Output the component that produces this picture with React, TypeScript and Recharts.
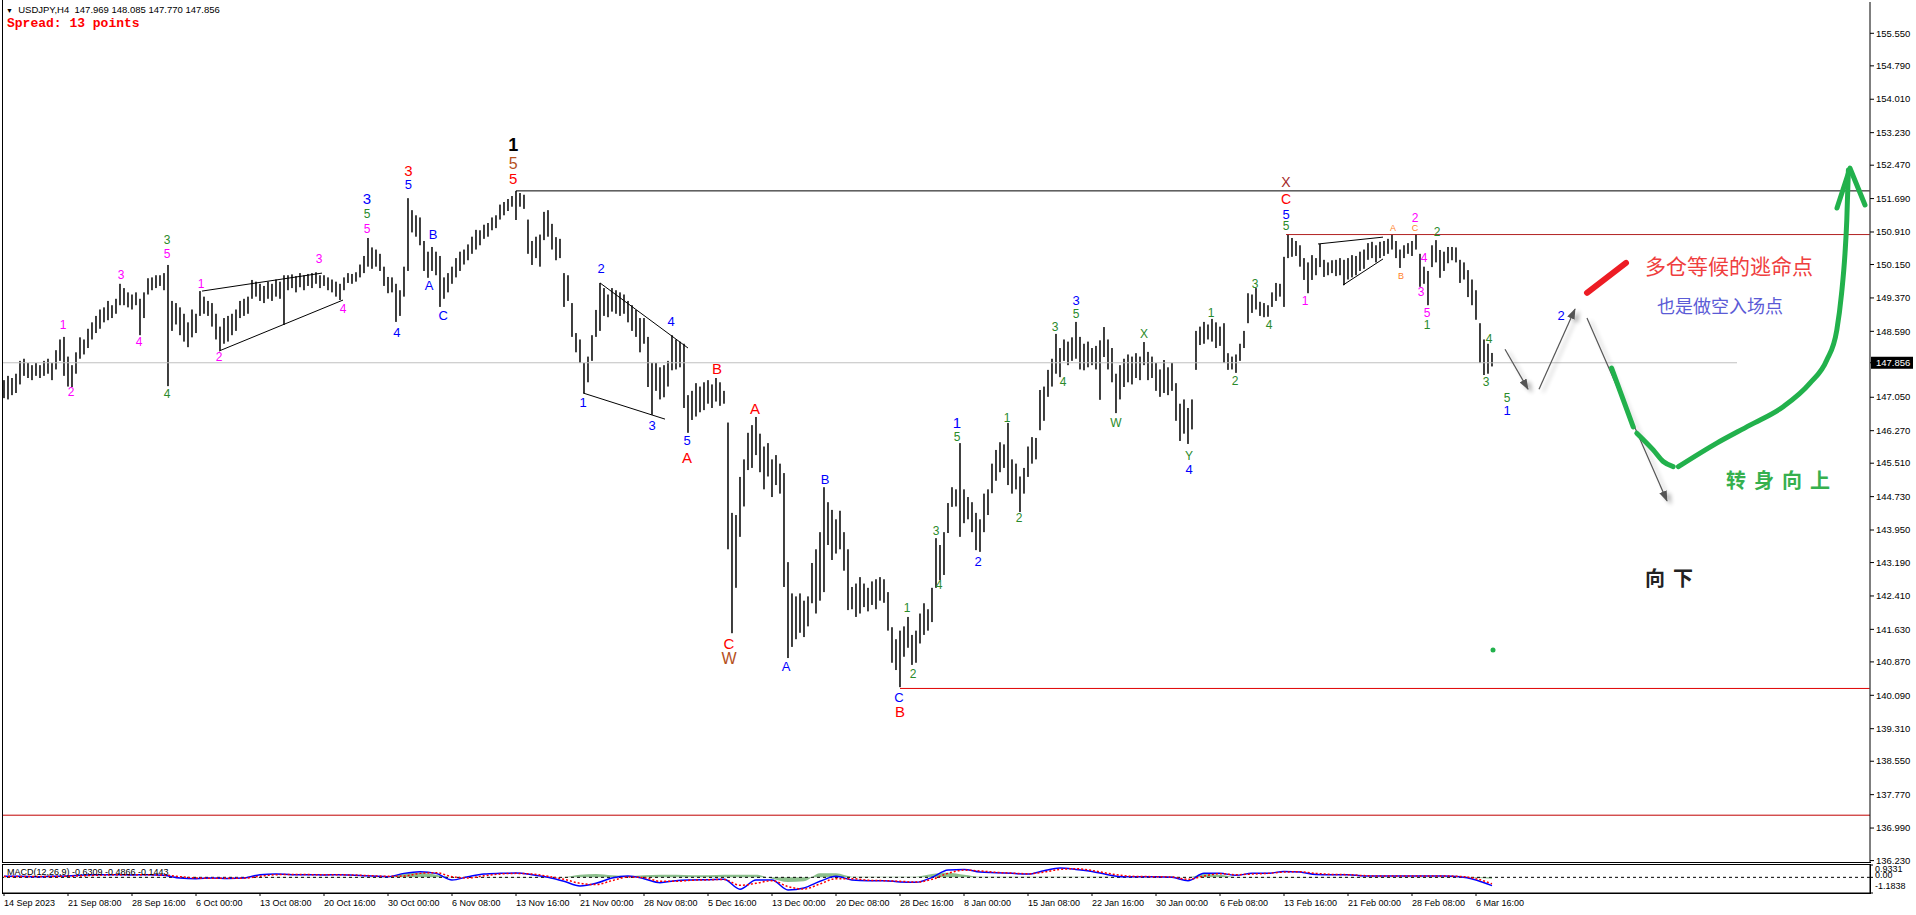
import React from "react"
import {
  ComposedChart,
  Bar,
  Line,
  Area,
  XAxis,
  YAxis,
  ReferenceLine,
  ReferenceDot,
} from "recharts"

// H4 price, two H4 bars per slot (8h)
const highs = [
  147.45, 147.55, 147.5, 147.6, 147.9, 147.95, 147.85, 147.8, 147.85, 147.8,
  147.9, 147.95, 147.85, 148.15, 148.4, 148.46, 148.0, 147.8, 148.1, 148.45,
  148.4, 148.65, 148.8, 148.95, 149.1, 149.15, 149.3, 149.2, 149.35, 149.7,
  149.6, 149.5, 149.45, 149.5, 149.35, 149.5, 149.83, 149.85, 149.9, 149.9,
  149.95, 150.14, 149.3, 149.25, 149.15, 149.0, 148.8, 149.1, 149.0, 149.53,
  149.4, 149.3, 149.25, 149.0, 148.7, 148.9, 148.95, 149.0, 149.1, 149.3,
  149.35, 149.4, 149.79, 149.75, 149.7, 149.65, 149.75, 149.7, 149.8, 149.75,
  149.9, 149.9, 149.92, 149.88, 149.95, 149.9, 149.93, 149.95, 149.97, 149.9,
  149.9, 149.85, 149.8, 149.75, 149.7, 149.85, 149.95, 149.93, 149.97, 150.15,
  150.35, 150.77, 150.55, 150.5, 150.4, 150.1, 149.86, 149.85, 149.7, 149.55,
  150.1, 151.7, 151.42, 151.3, 151.25, 150.7, 150.45, 150.56, 150.45, 150.35,
  149.85, 149.95, 150.1, 150.3, 150.45, 150.5, 150.62, 150.8, 150.96, 150.95,
  151.08, 151.12, 151.25, 151.3, 151.55, 151.61, 151.68, 151.75, 151.87, 151.82,
  151.78, 151.2, 150.7, 150.8, 150.85, 151.38, 151.42, 151.1, 150.79, 150.75,
  149.95, 149.9, 149.25, 148.55, 148.4, 147.85, 148.0, 148.5, 149.09, 149.72,
  149.6, 149.45, 149.6, 149.55, 149.5, 149.45, 149.3, 149.2, 149.09, 148.9,
  148.9, 148.46, 147.85, 147.85, 147.75, 147.8, 147.9, 148.5, 148.4, 148.35,
  148.3, 147.1, 147.2, 147.38, 147.3, 147.4, 147.45, 147.35, 147.5, 147.4,
  147.2, 146.46, 144.35, 144.3, 145.19, 145.6, 146.22, 146.4, 146.59, 146.2,
  145.9, 145.98, 145.6, 145.7, 145.5, 145.28, 143.2, 142.47, 142.4, 142.47,
  142.3, 142.4, 143.18, 143.5, 143.9, 144.95, 144.6, 144.42, 144.2, 144.4,
  143.9, 143.5, 142.62, 142.7, 142.85, 142.7, 142.6, 142.75, 142.8, 142.85,
  142.8, 142.5, 141.68, 141.4, 141.6, 141.7, 141.92, 141.5, 141.6, 142.0,
  142.24, 142.1, 142.6, 143.76, 143.6, 143.9, 144.58, 144.95, 144.9, 145.98,
  144.9, 144.72, 144.6, 144.35, 144.2, 144.8, 144.9, 145.5, 145.82, 146.0,
  145.95, 146.45, 145.6, 145.5, 145.2, 145.4, 145.9, 146.12, 146.1, 147.22,
  147.3, 147.69, 147.95, 148.53, 148.2, 148.4, 148.35, 148.45, 148.81, 148.46,
  148.3, 148.35, 148.2, 148.25, 148.38, 148.69, 148.4, 148.2, 147.6, 147.8,
  147.95, 148.05, 148.0, 148.08, 148.0, 148.34, 148.11, 148.0, 147.85, 147.7,
  147.92, 147.75, 147.85, 147.38, 146.9, 147.0, 146.8, 147.0, 148.6, 148.7,
  148.81, 148.75, 148.88, 148.8, 148.7, 148.78, 148.08, 148.0, 148.05, 148.3,
  148.6, 149.48, 149.45, 149.6, 149.28, 149.25, 149.2, 149.5, 149.72, 149.7,
  150.33, 150.86, 150.77, 150.7, 150.6, 150.3, 150.2, 150.37, 150.3, 150.63,
  150.26, 150.2, 150.25, 150.26, 150.3, 150.26, 150.3, 150.37, 150.35, 150.45,
  150.5, 150.65, 150.68, 150.6, 150.68, 150.7, 150.75, 150.84, 150.7, 150.5,
  150.6, 150.65, 150.7, 150.86, 150.4, 150.1, 150.0, 150.6, 150.72, 150.49,
  150.45, 150.56, 150.56, 150.55, 150.26, 150.2, 150.02, 149.8, 149.55, 148.78,
  148.4, 148.3, 148.085,
]

const lows = [
  147.03, 147.0, 147.1, 147.15, 147.35, 147.55, 147.5, 147.45, 147.55, 147.5,
  147.55, 147.6, 147.45, 147.7, 147.9, 147.55, 147.3, 147.29, 147.6, 147.95,
  148.05, 148.2, 148.4, 148.55, 148.65, 148.8, 148.85, 148.9, 149.0, 149.2,
  149.2, 149.15, 149.1, 149.2, 148.5, 148.9, 149.45, 149.55, 149.6, 149.65,
  149.55, 147.31, 148.6, 148.75, 148.5, 148.35, 148.22, 148.45, 148.55, 148.95,
  149.0, 148.95, 148.7, 148.4, 148.15, 148.3, 148.35, 148.5, 148.6, 148.9,
  148.95, 149.0, 149.35, 149.4, 149.3, 149.25, 149.35, 149.3, 149.4, 149.35,
  148.74, 149.55, 149.6, 149.5, 149.62, 149.55, 149.65, 149.6, 149.7, 149.6,
  149.65, 149.55, 149.5, 149.4, 149.32, 149.55, 149.72, 149.7, 149.75, 149.85,
  149.95, 150.1, 150.05, 150.1, 150.0, 149.65, 149.48, 149.5, 148.81, 148.95,
  149.4, 150.0, 150.9, 150.8, 150.6, 150.0, 149.84, 150.0, 149.9, 149.16,
  149.35, 149.5, 149.7, 149.85, 150.0, 150.15, 150.25, 150.4, 150.5, 150.6,
  150.75, 150.8, 150.95, 151.0, 151.2, 151.3, 151.4, 151.5, 151.19, 151.5,
  151.45, 150.4, 150.14, 150.3, 150.1, 150.72, 150.8, 150.5, 150.25, 150.3,
  149.16, 149.3, 148.46, 148.1, 147.85, 147.15, 147.4, 147.9, 148.46, 148.6,
  148.95, 148.92, 149.05, 149.0, 148.95, 149.0, 148.8, 148.6, 148.46, 148.1,
  148.3, 147.29, 146.64, 147.2, 147.0, 147.05, 147.3, 147.68, 147.7, 147.75,
  146.8, 146.22, 146.52, 146.6, 146.7, 146.75, 146.9, 146.8, 146.95, 146.85,
  146.9, 143.5, 141.54, 142.6, 143.79, 144.5, 145.35, 145.4, 145.7, 145.3,
  144.9, 145.2, 144.72, 145.0, 144.8, 142.62, 140.96, 141.22, 141.4, 141.55,
  141.45, 141.7, 142.24, 142.0, 142.3, 142.5, 143.6, 143.25, 143.4, 143.5,
  143.0, 142.08, 142.1, 141.92, 142.0, 142.15, 142.05, 142.2, 142.1, 142.3,
  142.25, 141.6, 140.85, 140.68, 140.28, 140.99, 141.2, 140.8, 140.85, 141.3,
  141.5, 141.6, 141.8, 142.6, 142.78, 142.9, 143.88, 144.49, 144.5, 143.79,
  144.11, 144.2, 143.9, 143.48, 143.44, 143.9, 144.3, 144.81, 145.1, 145.3,
  145.4, 145.0, 144.8, 144.9, 144.37, 144.8, 145.19, 145.5, 145.6, 146.28,
  146.5, 147.06, 147.3, 147.6, 147.52, 147.9, 147.8, 147.9, 147.95, 147.7,
  147.68, 147.75, 147.8, 147.7, 146.99, 147.99, 147.7, 147.4, 146.68, 147.0,
  147.29, 147.4, 147.35, 147.5, 147.45, 147.8, 147.45, 147.5, 147.2, 147.06,
  147.15, 147.1, 147.2, 146.5, 146.03, 146.2, 145.96, 146.3, 147.69, 148.27,
  148.3, 148.4, 148.35, 148.2, 148.25, 147.85, 147.69, 147.7, 147.62, 147.9,
  148.2, 148.78, 149.02, 149.1, 148.95, 148.92, 148.93, 149.16, 149.3, 149.4,
  149.16, 150.3, 150.33, 150.35, 150.1, 149.79, 149.48, 149.79, 149.9, 150.09,
  149.86, 149.9, 149.95, 149.88, 149.9, 149.67, 149.8, 149.85, 149.9, 150.0,
  150.05, 150.26, 150.3, 150.2, 150.3, 150.35, 150.4, 150.5, 150.3, 150.07,
  150.3, 150.4, 150.35, 150.5, 149.63, 149.7, 149.2, 150.09, 150.2, 149.84,
  150.0, 150.18, 150.25, 150.2, 149.72, 149.8, 149.39, 149.2, 148.86, 147.85,
  147.57, 147.6, 147.77,
]

const lastPrice = 147.856
const yTicks = [
  155.55, 154.79, 154.01, 153.23, 152.47, 151.69, 150.91, 150.15, 149.37,
  148.59, 147.856, 147.05, 146.27, 145.51, 144.73, 143.95, 143.19, 142.41,
  141.63, 140.87, 140.09, 139.31, 138.55, 137.77, 136.99, 136.23,
]

const timeSlots = [
  0, 16, 32, 48, 64, 80, 96, 112, 128, 144, 160, 176, 192, 208, 224, 240, 256,
  272, 288, 304, 320, 336, 352, 368,
]
const timeLabels = [
  "14 Sep 2023", "21 Sep 08:00", "28 Sep 16:00", "6 Oct 00:00", "13 Oct 08:00",
  "20 Oct 16:00", "30 Oct 00:00", "6 Nov 08:00", "13 Nov 16:00", "21 Nov 00:00",
  "28 Nov 08:00", "5 Dec 16:00", "13 Dec 00:00", "20 Dec 08:00", "28 Dec 16:00",
  "8 Jan 00:00", "15 Jan 08:00", "22 Jan 16:00", "30 Jan 00:00", "6 Feb 08:00",
  "13 Feb 16:00", "21 Feb 00:00", "28 Feb 08:00", "6 Mar 16:00",
]

// MACD, one value every 4 slots
const macdMain = [
  0.08, 0.08, 0.05, 0.08, 0.1, 0.18, 0.2, 0.2, 0.18, 0.2, 0.15, -0.05, -0.1,
  -0.05, -0.08, -0.05, 0.2, 0.25, 0.2, 0.2, 0.18, 0.2, 0.15, 0.1, 0.05, 0.3,
  0.42, 0.3, -0.2, 0.05, 0.25, 0.3, 0.32, 0.2, 0.0, -0.3, -0.65, -0.45, -0.05,
  0.1, -0.1, -0.4, -0.25, -0.2, -0.18, -0.15, -0.9, -0.2, -0.2, -0.95, -0.8,
  -0.3, 0.08, -0.2, -0.25, -0.25, -0.35, -0.38, 0.0, 0.55, 0.6, 0.4, 0.35, 0.3,
  0.25, 0.5, 0.7, 0.6, 0.45, 0.2, 0.05, 0.05, 0.05, 0.0, -0.25, 0.3, 0.3, 0.15,
  0.3, 0.3, 0.45, 0.4, 0.22, 0.2, 0.2, 0.1, 0.1, 0.1, 0.1, 0.1, 0.1, 0.05, -0.2,
  -0.63,
]
const macdSignal = [
  0.06, 0.07, 0.06, 0.07, 0.08, 0.12, 0.17, 0.19, 0.19, 0.19, 0.17, 0.05, -0.05,
  -0.07, -0.07, -0.06, 0.08, 0.2, 0.22, 0.21, 0.19, 0.19, 0.17, 0.12, 0.08, 0.1,
  0.3, 0.35, 0.05, -0.05, 0.12, 0.25, 0.3, 0.25, 0.08, -0.15, -0.45, -0.55,
  -0.25, 0.02, -0.02, -0.3, -0.3, -0.22, -0.19, -0.16, -0.6, -0.45, -0.25, -0.7,
  -0.88, -0.5, -0.1, -0.1, -0.22, -0.25, -0.3, -0.36, -0.15, 0.3, 0.55, 0.48,
  0.38, 0.32, 0.27, 0.4, 0.6, 0.65, 0.52, 0.3, 0.12, 0.06, 0.05, 0.02, -0.15,
  0.1, 0.28, 0.2, 0.25, 0.3, 0.4, 0.42, 0.3, 0.22, 0.2, 0.13, 0.1, 0.1, 0.1,
  0.1, 0.1, 0.07, -0.1, -0.49,
]
const macdHist = [
  0.02, 0.02, 0.02, 0.02, 0.02, 0.02, 0.02, 0.02, 0.02, 0.02, 0.02, 0.0, 0.0,
  0.0, 0.0, 0.0, 0.02, 0.02, 0.02, 0.02, 0.02, 0.02, 0.02, 0.02, 0.02, 0.3,
  0.35, 0.2, 0.02, 0.02, 0.02, 0.02, 0.02, 0.02, 0.02, 0.02, 0.2, 0.25, 0.15,
  0.1, 0.15, 0.2, 0.2, 0.15, 0.15, 0.2, 0.2, 0.2, -0.1, -0.35, -0.3, 0.3, 0.3,
  0.05, 0.05, 0.05, 0.05, 0.05, 0.25, 0.35, 0.2, 0.05, 0.05, 0.05, 0.05, 0.05,
  0.05, 0.05, 0.05, 0.05, 0.05, 0.05, 0.05, 0.05, 0.0, 0.25, 0.2, 0.03, 0.03,
  0.03, 0.03, 0.03, 0.03, 0.03, 0.03, 0.03, 0.03, 0.03, 0.03, 0.03, 0.03, 0.03,
  -0.05, -0.1,
]

// wave labels: slot, price, text, style key
const waveLabels = [
  { x: 14.75, y: 148.74, t: "1", k: "mag" },
  { x: 16.75, y: 147.17, t: "2", k: "mag" },
  { x: 29.25, y: 149.9, t: "3", k: "mag" },
  { x: 33.75, y: 148.34, t: "4", k: "mag" },
  { x: 40.75, y: 150.39, t: "5", k: "mag" },
  { x: 49.25, y: 149.7, t: "1", k: "mag" },
  { x: 53.75, y: 147.99, t: "2", k: "mag" },
  { x: 78.75, y: 150.28, t: "3", k: "mag" },
  { x: 84.75, y: 149.11, t: "4", k: "mag" },
  { x: 90.75, y: 150.98, t: "5", k: "mag" },
  { x: 325.25, y: 149.3, t: "1", k: "mag" },
  { x: 352.75, y: 151.23, t: "2", k: "mag" },
  { x: 355, y: 150.3, t: "4", k: "mag" },
  { x: 354.25, y: 149.51, t: "3", k: "mag" },
  { x: 355.75, y: 149.02, t: "5", k: "mag" },
  { x: 40.75, y: 150.72, t: "3", k: "grn" },
  { x: 40.75, y: 147.13, t: "4", k: "grn" },
  { x: 90.75, y: 151.33, t: "5", k: "grn" },
  { x: 225.75, y: 142.13, t: "1", k: "grn" },
  { x: 227.25, y: 140.59, t: "2", k: "grn" },
  { x: 233, y: 143.93, t: "3", k: "grn" },
  { x: 233.75, y: 142.67, t: "4", k: "grn" },
  { x: 238.25, y: 146.12, t: "5", k: "grn" },
  { x: 250.75, y: 146.57, t: "1", k: "grn" },
  { x: 253.75, y: 144.23, t: "2", k: "grn" },
  { x: 262.75, y: 148.69, t: "3", k: "grn" },
  { x: 264.75, y: 147.41, t: "4", k: "grn" },
  { x: 268, y: 148.99, t: "5", k: "grn" },
  { x: 278, y: 146.45, t: "W", k: "grn" },
  { x: 285, y: 148.53, t: "X", k: "grn" },
  { x: 296.25, y: 145.68, t: "Y", k: "grn" },
  { x: 301.75, y: 149.02, t: "1", k: "grn" },
  { x: 307.75, y: 147.43, t: "2", k: "grn" },
  { x: 312.75, y: 149.69, t: "3", k: "grn" },
  { x: 316.25, y: 148.74, t: "4", k: "grn" },
  { x: 320.5, y: 151.06, t: "5", k: "grn" },
  { x: 358.25, y: 150.91, t: "2", k: "grn" },
  { x: 355.75, y: 148.74, t: "1", k: "grn" },
  { x: 371.25, y: 148.41, t: "4", k: "grn" },
  { x: 370.5, y: 147.41, t: "3", k: "grn" },
  { x: 375.75, y: 147.04, t: "5", k: "grn" },
  { x: 90.75, y: 151.7, t: "3", k: "bluL" },
  { x: 101.1, y: 152.01, t: "5", k: "blu" },
  { x: 98.2, y: 148.57, t: "4", k: "blu" },
  { x: 107.3, y: 150.84, t: "B", k: "blu" },
  { x: 106.3, y: 149.65, t: "A", k: "blu" },
  { x: 109.8, y: 148.97, t: "C", k: "blu" },
  { x: 149.25, y: 150.05, t: "2", k: "blu" },
  { x: 144.75, y: 146.92, t: "1", k: "blu" },
  { x: 162, y: 146.4, t: "3", k: "blu" },
  { x: 166.75, y: 148.81, t: "4", k: "blu" },
  { x: 170.75, y: 146.03, t: "5", k: "blu" },
  { x: 205.25, y: 145.14, t: "B", k: "blu" },
  { x: 195.5, y: 140.77, t: "A", k: "blu" },
  { x: 223.75, y: 140.03, t: "C", k: "blu" },
  { x: 238.25, y: 146.45, t: "1", k: "bluL" },
  { x: 243.5, y: 143.21, t: "2", k: "blu" },
  { x: 268, y: 149.3, t: "3", k: "blu" },
  { x: 296.25, y: 145.37, t: "4", k: "blu" },
  { x: 320.5, y: 151.33, t: "5", k: "blu" },
  { x: 375.75, y: 146.75, t: "1", k: "blu" },
  { x: 389.25, y: 148.97, t: "2", k: "blu" },
  { x: 101.1, y: 152.34, t: "3", k: "red" },
  { x: 127.3, y: 152.15, t: "5", k: "red" },
  { x: 170.75, y: 145.65, t: "A", k: "red" },
  { x: 178.25, y: 147.73, t: "B", k: "red" },
  { x: 181.25, y: 141.31, t: "C", k: "red" },
  { x: 187.75, y: 146.78, t: "A", k: "red" },
  { x: 224, y: 139.72, t: "B", k: "red" },
  { x: 320.5, y: 151.68, t: "C", k: "redS" },
  { x: 181.25, y: 140.94, t: "W", k: "brn" },
  { x: 127.3, y: 152.5, t: "5", k: "brn" },
  { x: 320.5, y: 152.08, t: "X", k: "dkr" },
  { x: 127.3, y: 152.94, t: "1", k: "blk" },
  { x: 347.25, y: 151.0, t: "A", k: "org" },
  { x: 349.25, y: 149.88, t: "B", k: "org" },
  { x: 352.75, y: 151.0, t: "C", k: "org" },
]

const notes = [
  { x: 410.25, y: 150.14, t: "多仓等候的逃命点", k: "cnRed" },
  { x: 413.25, y: 149.2, t: "也是做空入场点", k: "cnBlue" },
  { x: 430.5, y: 145.12, t: "转身向上", k: "cnGreen" },
  { x: 410.25, y: 142.85, t: "向下", k: "cnBlack" },
]

const styles: Record<string, any> = {
  mag: { fill: "#ff00ff", size: 12 },
  grn: { fill: "#2a8a2a", size: 12 },
  blu: { fill: "#0000ff", size: 13 },
  bluL: { fill: "#0000ff", size: 15 },
  red: { fill: "#ff0000", size: 15 },
  redS: { fill: "#ff0000", size: 14 },
  brn: { fill: "#b5501c", size: 16 },
  dkr: { fill: "#a52a2a", size: 14 },
  blk: { fill: "#000000", size: 18, weight: "bold" },
  org: { fill: "#ff7f27", size: 9 },
  cnRed: { fill: "#ef3e3e", size: 21 },
  cnBlue: { fill: "#5b5bd6", size: 18 },
  cnGreen: { fill: "#35b04e", size: 20, weight: "bold", spacing: 8 },
  cnBlack: { fill: "#222222", size: 20, weight: "bold", spacing: 8 },
}

// wedges / channels [x1, y1, x2, y2]
const trendLines = [
  [49.5, 149.53, 79.5, 149.95],
  [53.75, 148.13, 84.75, 149.32],
  [149, 149.72, 171, 148.2],
  [144.75, 147.15, 165.25, 146.54],
  [328.5, 150.63, 344.75, 150.79],
  [334.75, 149.67, 344.75, 150.28],
]

// horizontal levels [fromSlot, price]
const blackLevel = [128, 151.87]
const darkRedLevel = [320.5, 150.85]
const redLevel = [224, 140.25]
const bottomLevel = 137.29

// projected path
const grayArrow1 = [{ x: 375.25, y: 148.17 }, { x: 381, y: 147.24 }]
const grayArrow2 = [{ x: 383.75, y: 147.24 }, { x: 392.75, y: 149.11 }]
const grayArrow3 = [{ x: 395.75, y: 148.9 }, { x: 415.75, y: 144.63 }]
const redMark = [{ x: 395.75, y: 149.49 }, { x: 405.5, y: 150.19 }]
const greenA = [{ x: 401.9, y: 147.73 }, { x: 407.3, y: 146.36 }]
const greenB = [
  { x: 408.2, y: 146.21 }, { x: 412.3, y: 145.82 },
  { x: 414.8, y: 145.55 }, { x: 417.3, y: 145.43 },
]
const greenC = [
  { x: 418.6, y: 145.43 }, { x: 428.2, y: 145.98 }, { x: 436.5, y: 146.4 },
  { x: 444.8, y: 146.83 }, { x: 451.5, y: 147.38 }, { x: 455.7, y: 147.92 },
  { x: 458.2, y: 148.62 }, { x: 459.4, y: 149.48 }, { x: 460.25, y: 150.41 },
  { x: 460.7, y: 151.19 }, { x: 461.1, y: 152.36 },
]
const greenHead = [
  { x: 458.25, y: 151.47 }, { x: 461.5, y: 152.4 }, { x: 465.25, y: 151.54 },
]
const greenDot = { x: 372.25, y: 141.15 }

const X_DOMAIN = [-0.5, 466.5]
const Y_DOMAIN = [136.197, 156.281]
const FONT = "'Liberation Sans', Arial, sans-serif"

function textShape(t: string, k: string, anchor: string) {
  const s = styles[k]
  return (p: any) => (
    <text
      x={p.cx}
      y={p.cy}
      fill={s.fill}
      fontSize={s.size}
      fontWeight={s.weight || "normal"}
      letterSpacing={s.spacing || 0}
      textAnchor={anchor}
      dominantBaseline="central"
      fontFamily={k.startsWith("cn") ? "'Noto Sans CJK SC', sans-serif" : FONT}
    >
      {t}
    </text>
  )
}

// one H4-style bar: thin vertical stroke centred on its slot
function PriceBar(p: any) {
  if (p.height == null || p.x == null) return null
  const top = Math.min(p.y, p.y + p.height)
  const h = Math.max(Math.abs(p.height), 1)
  return <rect x={p.x + p.width / 2 - 0.75} y={top} width={1.5} height={h} fill="#000" />
}

function PriceTick(p: any) {
  const v = p.payload.value
  if (v === lastPrice) {
    return (
      <g>
        <rect x={p.x - 5} y={p.y - 6} width={42} height={12} fill="#000" />
        <text x={p.x} y={p.y + 3.5} fontSize={9.5} fill="#fff" fontFamily={FONT}>
          {v.toFixed(3)}
        </text>
      </g>
    )
  }
  return (
    <text x={p.x} y={p.y + 3.2} fontSize={9.5} fill="#000" fontFamily={FONT}>
      {v.toFixed(3)}
    </text>
  )
}

function MacdTick(p: any) {
  const v = p.payload.value
  const dy = v > 0 ? 6.5 : v < 0 ? -4.5 : 1
  const txt = v === 0 ? "0.00" : v.toFixed(4)
  return (
    <text x={p.x} y={p.y + dy} fontSize={9} fill="#000" fontFamily={FONT}>
      {txt}
    </text>
  )
}

function TimeTick(p: any) {
  const idx = timeSlots.indexOf(p.payload.value)
  return (
    <text x={p.x} y={p.y + 8.5} fontSize={9} fill="#000" fontFamily={FONT} textAnchor="start">
      {timeLabels[idx]}
    </text>
  )
}

export default function App() {
  const bars = highs.map((h, i) => ({ x: i, r: [lows[i], h] }))
  const macdRows = macdMain.map((m, k) => ({
    x: k * 4,
    m,
    s: macdSignal[k],
    h: macdHist[k],
  }))

  return (
    <div
      style={{
        position: "absolute",
        left: 0,
        top: 0,
        width: 1916,
        height: 915,
        background: "#fff",
        overflow: "hidden",
        fontFamily: FONT,
      }}
    >
      {/* MACD window with time axis */}
      <div style={{ position: "absolute", left: 0, top: 864 }}>
        <ComposedChart
          width={1916}
          height={51}
          data={macdRows}
          margin={{ top: 1, right: 0, bottom: 0, left: 2 }}
        >
          <XAxis
            dataKey="x"
            type="number"
            domain={X_DOMAIN}
            ticks={timeSlots}
            interval={0}
            height={22}
            tickSize={3}
            tickMargin={1}
            stroke="#000"
            tick={TimeTick}
            allowDataOverflow
          />
          <YAxis
            orientation="right"
            width={46}
            type="number"
            domain={[-1.1838, 0.9331]}
            ticks={[0.9331, 0, -1.1838]}
            interval={0}
            tick={MacdTick}
            tickSize={3}
            tickMargin={2}
            stroke="#000"
            allowDataOverflow
          />
          <ReferenceLine y={0} stroke="#000" strokeDasharray="3 3" />
          <Area
            dataKey="h"
            type="monotone"
            baseValue={0}
            fill="#2e8b2e"
            fillOpacity={0.55}
            stroke="none"
            isAnimationActive={false}
          />
          <Line
            dataKey="m"
            type="monotone"
            stroke="#0000ff"
            strokeWidth={1.5}
            dot={false}
            isAnimationActive={false}
          />
          <Line
            dataKey="s"
            type="monotone"
            stroke="#ff0000"
            strokeWidth={1.5}
            strokeDasharray="2 2"
            dot={false}
            isAnimationActive={false}
          />
        </ComposedChart>
      </div>

      {/* main price window */}
      <div style={{ position: "absolute", left: 0, top: 0 }}>
        <ComposedChart
          width={1916}
          height={870}
          data={bars}
          margin={{ top: 2, right: 0, bottom: 8, left: 2 }}
        >
          <defs>
            <marker
              id="ahGray"
              markerWidth="11"
              markerHeight="8"
              refX="10"
              refY="4"
              orient="auto"
              markerUnits="userSpaceOnUse"
            >
              <path d="M0,0 L11,4 L0,8 z" fill="#555" />
            </marker>
            <filter
              id="shadow"
              filterUnits="userSpaceOnUse"
              x="0"
              y="0"
              width="1916"
              height="864"
            >
              <feGaussianBlur in="SourceAlpha" stdDeviation="2.2" />
              <feOffset dx="4" dy="3" />
              <feComponentTransfer>
                <feFuncA type="linear" slope="0.3" />
              </feComponentTransfer>
              <feMerge>
                <feMergeNode />
                <feMergeNode in="SourceGraphic" />
              </feMerge>
            </filter>
          </defs>
          <XAxis dataKey="x" type="number" domain={X_DOMAIN} hide allowDataOverflow />
          <YAxis
            orientation="right"
            width={46}
            type="number"
            domain={Y_DOMAIN}
            ticks={yTicks}
            interval={0}
            allowDataOverflow
            tick={PriceTick}
            tickSize={4}
            tickMargin={2}
            stroke="#000"
          />

          <ReferenceLine y={bottomLevel} stroke="#c00000" ifOverflow="visible" />
          <ReferenceLine
            segment={[{ x: -0.5, y: lastPrice }, { x: 433.25, y: lastPrice }]}
            stroke="#c0c0c0"
            ifOverflow="visible"
          />
          <ReferenceLine
            segment={[{ x: blackLevel[0], y: blackLevel[1] }, { x: 466.4, y: blackLevel[1] }]}
            stroke="#000"
            ifOverflow="visible"
          />
          <ReferenceLine
            segment={[{ x: darkRedLevel[0], y: darkRedLevel[1] }, { x: 466.4, y: darkRedLevel[1] }]}
            stroke="#b22222"
            ifOverflow="visible"
          />
          <ReferenceLine
            segment={[{ x: redLevel[0], y: redLevel[1] }, { x: 466.4, y: redLevel[1] }]}
            stroke="#e00000"
            ifOverflow="visible"
          />
          {trendLines.map((l, i) => (
            <ReferenceLine
              key={"tl" + i}
              segment={[{ x: l[0], y: l[1] }, { x: l[2], y: l[3] }]}
              stroke="#000"
              ifOverflow="visible"
            />
          ))}

          <Bar
            dataKey="r"
            barSize={2}
            fill="#000"
            shape={PriceBar}
            isAnimationActive={false}
          />

          {[grayArrow1, grayArrow2, grayArrow3].map((d, i) => (
            <Line
              key={"ga" + i}
              data={d}
              dataKey="y"
              type="linear"
              stroke="#555"
              strokeWidth={1.2}
              dot={false}
              activeDot={false}
              markerEnd="url(#ahGray)"
              filter="url(#shadow)"
              isAnimationActive={false}
            />
          ))}
          <Line
            data={redMark}
            dataKey="y"
            type="linear"
            stroke="#ed1c24"
            strokeWidth={6}
            strokeLinecap="round"
            dot={false}
            activeDot={false}
            isAnimationActive={false}
          />
          {[greenA, greenB, greenC, greenHead].map((d, i) => (
            <Line
              key={"gr" + i}
              data={d}
              dataKey="y"
              type={i === 3 ? "linear" : "monotone"}
              stroke="#22b14c"
              strokeWidth={5}
              strokeLinecap="round"
              strokeLinejoin="round"
              dot={false}
              activeDot={false}
              isAnimationActive={false}
            />
          ))}
          <ReferenceDot
            x={greenDot.x}
            y={greenDot.y}
            r={2.5}
            fill="#22b14c"
            stroke="none"
            ifOverflow="visible"
          />

          {waveLabels.map((l, i) => (
            <ReferenceDot
              key={"wl" + i}
              x={l.x}
              y={l.y}
              r={0}
              ifOverflow="visible"
              shape={textShape(l.t, l.k, "middle")}
            />
          ))}
          {notes.map((l, i) => (
            <ReferenceDot
              key={"nt" + i}
              x={l.x}
              y={l.y}
              r={0}
              ifOverflow="visible"
              shape={textShape(l.t, l.k, "start")}
            />
          ))}
        </ComposedChart>
      </div>

      {/* window frames */}
      <div
        style={{
          position: "absolute",
          left: 2,
          top: 0,
          width: 1869,
          height: 863,
          boxSizing: "border-box",
          borderLeft: "1px solid #000",
          borderBottom: "1px solid #000",
          pointerEvents: "none",
        }}
      />
      <div
        style={{
          position: "absolute",
          left: 2,
          top: 864,
          width: 1869,
          height: 30,
          boxSizing: "border-box",
          border: "1px solid #000",
          pointerEvents: "none",
        }}
      />

      {/* header */}
      <div
        style={{
          position: "absolute",
          left: 6,
          top: 5,
          fontSize: 9.5,
          lineHeight: "10px",
          whiteSpace: "pre",
          color: "#000",
        }}
      >
        <span style={{ fontSize: 7 }}>▼</span>
        {"  USDJPY,H4  147.969 148.085 147.770 147.856"}
      </div>
      <div
        style={{
          position: "absolute",
          left: 7,
          top: 17,
          fontFamily: "'Liberation Mono', 'Courier New', monospace",
          fontWeight: "bold",
          fontSize: 13,
          lineHeight: "13px",
          color: "#ff0000",
          whiteSpace: "pre",
        }}
      >
        Spread: 13 points
      </div>
      <div
        style={{
          position: "absolute",
          left: 7,
          top: 867,
          fontSize: 9,
          lineHeight: "11px",
          color: "#000",
          whiteSpace: "pre",
        }}
      >
        MACD(12,26,9) -0.6309 -0.4866 -0.1443
      </div>
    </div>
  )
}
